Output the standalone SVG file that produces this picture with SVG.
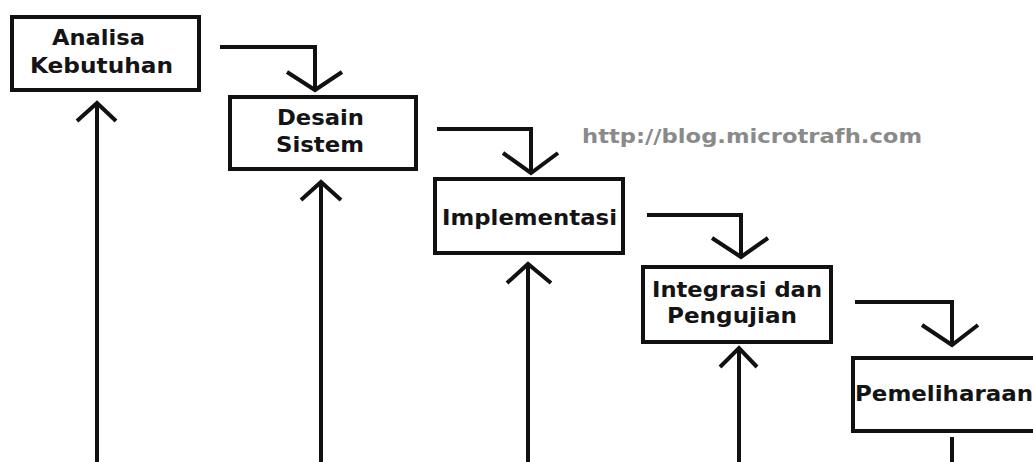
<svg xmlns="http://www.w3.org/2000/svg" width="1033" height="462" viewBox="0 0 1033 462">
<style>
.box{fill:#fff;stroke:#111;stroke-width:4}
.ln{fill:none;stroke:#111;stroke-width:4;stroke-linejoin:miter;stroke-linecap:butt}
.t{font-family:"DejaVu Sans","Liberation Sans",sans-serif;font-weight:bold;font-size:20.5px;fill:#141414}
.url{font-family:"DejaVu Sans","Liberation Sans",sans-serif;font-weight:bold;font-size:19px;fill:#8a8a8a}
</style>
<rect width="1033" height="462" fill="#fff"/>
<g id="connectors">
  <polyline class="ln" points="220,47 315,47 315,90"/>
  <polyline class="ln" points="287,72 315,90 342,72"/>
  <polyline class="ln" points="437,129 531,129 531,173"/>
  <polyline class="ln" points="503,153 531,173 558,153"/>
  <polyline class="ln" points="647,215 741,215 741,257"/>
  <polyline class="ln" points="712,238 741,257 768,238"/>
  <polyline class="ln" points="855,302 952,302 952,345"/>
  <polyline class="ln" points="922,325 952,345 978,325"/>
  <line class="ln" x1="97" y1="462" x2="97" y2="103"/>
  <polyline class="ln" points="77,121 97,103 116,121"/>
  <line class="ln" x1="321" y1="462" x2="321" y2="182"/>
  <polyline class="ln" points="301,200 321,182 341,200"/>
  <line class="ln" x1="528" y1="462" x2="528" y2="264"/>
  <polyline class="ln" points="507,283 528,264 551,283"/>
  <line class="ln" x1="739" y1="462" x2="739" y2="348"/>
  <polyline class="ln" points="720,367 739,348 757,367"/>
  <line class="ln" x1="952" y1="437" x2="952" y2="462"/>
</g>
<g id="analisa">
  <rect class="box" x="12" y="17" width="187" height="73"/>
  <text class="t" x="52" y="45" textLength="93" lengthAdjust="spacingAndGlyphs">Analisa</text>
  <text class="t" x="30" y="73" textLength="143" lengthAdjust="spacingAndGlyphs">Kebutuhan</text>
</g>
<g id="desain">
  <rect class="box" x="230" y="97" width="186" height="72"/>
  <text class="t" x="277" y="125" textLength="87" lengthAdjust="spacingAndGlyphs">Desain</text>
  <text class="t" x="276" y="152" textLength="88" lengthAdjust="spacingAndGlyphs">Sistem</text>
</g>
<g id="implementasi">
  <rect class="box" x="435" y="179" width="188" height="74"/>
  <text class="t" x="442" y="225" textLength="175" lengthAdjust="spacingAndGlyphs">Implementasi</text>
</g>
<g id="integrasi">
  <rect class="box" x="643" y="267" width="188" height="75"/>
  <text class="t" x="652" y="297" textLength="170" lengthAdjust="spacingAndGlyphs">Integrasi dan</text>
  <text class="t" x="667" y="323" textLength="130" lengthAdjust="spacingAndGlyphs">Pengujian</text>
</g>
<g id="pemeliharaan">
  <rect class="box" x="853" y="358" width="200" height="73"/>
  <text class="t" x="855" y="401" textLength="178" lengthAdjust="spacingAndGlyphs">Pemeliharaan</text>
</g>
<text class="url" x="582" y="143" textLength="340" lengthAdjust="spacingAndGlyphs">http://blog.microtrafh.com</text>
</svg>
